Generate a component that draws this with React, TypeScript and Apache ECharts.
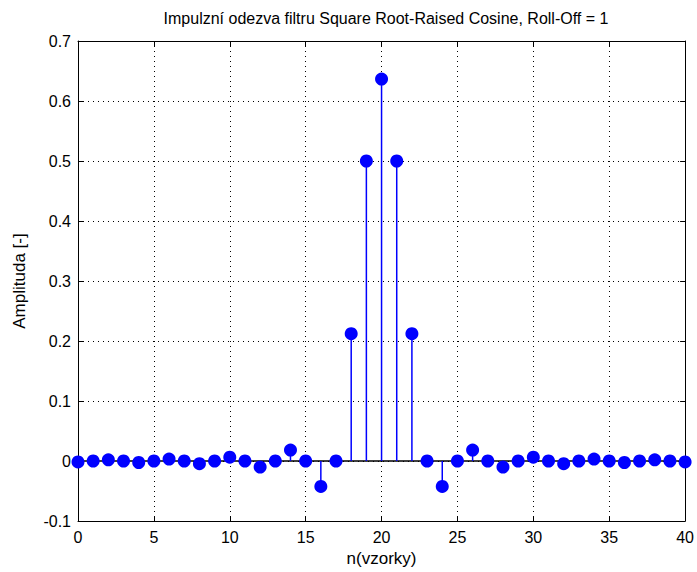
import React, { useEffect, useRef } from "react";
import * as echarts from "echarts";

const samples: number[] = [
  0, 1, 2, 3, 4, 5, 6, 7, 8, 9, 10, 11, 12, 13, 14, 15, 16, 17, 18, 19, 20,
  21, 22, 23, 24, 25, 26, 27, 28, 29, 30, 31, 32, 33, 34, 35, 36, 37, 38, 39, 40,
];
const amplitudes: number[] = [
  -0.0016, 0, 0.002, 0, -0.0025, 0, 0.0033, 0, -0.0045, 0, 0.0064, 0, -0.0101, 0,
  0.0182, 0, -0.0424, 0, 0.2122, 0.5, 0.6366, 0.5, 0.2122, 0, -0.0424, 0, 0.0182,
  0, -0.0101, 0, 0.0064, 0, -0.0045, 0, 0.0033, 0, -0.0025, 0, 0.002, 0, -0.0016,
];
const titleText = "Impulzní odezva filtru Square Root-Raised Cosine, Roll-Off = 1";
const xLabel = "n(vzorky)";
const yLabel = "Amplituda [-]";

const FONT = "'Liberation Sans Narrow', 'Liberation Sans', Arial, sans-serif";

export default function App() {
  const ref = useRef<HTMLDivElement>(null);
  useEffect(() => {
    if (!ref.current) return;
    const chart = echarts.init(ref.current, undefined, { renderer: "svg" });
    const pts = samples.map((n, i) => [n, amplitudes[i]]);
    const axisCommon = {
      type: "value" as const,
      axisLine: { show: true, onZero: false, lineStyle: { color: "#000", width: 1 } },
      axisTick: { show: true, inside: true, length: 5, lineStyle: { color: "#000" } },
    };
    chart.setOption({
      animation: false,
      backgroundColor: "#fff",
      graphic: [
        {
          type: "text",
          x: 386,
          y: 18,
          style: {
            text: titleText,
            fontFamily: FONT,
            fontSize: 16,
            fill: "#000",
            align: "center",
            verticalAlign: "middle",
          },
        },
      ],
      grid: { left: 78, right: 6, top: 41, bottom: 51 },
      xAxis: [
        {
          ...axisCommon,
          min: 0,
          max: 40,
          interval: 5,
          position: "bottom",
          name: xLabel,
          nameLocation: "middle",
          nameGap: 29,
          nameTextStyle: { fontFamily: FONT, fontSize: 17, color: "#000" },
          axisLabel: { fontFamily: FONT, fontSize: 16, color: "#000", margin: 8 },
          splitLine: { show: true, lineStyle: { color: "#000", type: [1, 4], width: 1 } },
        },
        {
          ...axisCommon,
          min: 0,
          max: 40,
          interval: 5,
          position: "top",
          axisLabel: { show: false },
          splitLine: { show: false },
        },
      ],
      yAxis: [
        {
          ...axisCommon,
          min: -0.1,
          max: 0.7,
          interval: 0.1,
          position: "left",
          name: yLabel,
          nameLocation: "middle",
          nameGap: 50,
          nameTextStyle: { fontFamily: FONT, fontSize: 17, color: "#000" },
          axisLabel: {
            fontFamily: FONT,
            fontSize: 16,
            color: "#000",
            margin: 7,
            formatter: (v: number) => {
              const r = Math.round(v * 10) / 10;
              return r === 0 ? "0" : String(r);
            },
          },
          splitLine: { show: true, lineStyle: { color: "#000", type: [1, 4], width: 1 } },
        },
        {
          ...axisCommon,
          min: -0.1,
          max: 0.7,
          interval: 0.1,
          position: "right",
          axisLabel: { show: false },
          splitLine: { show: false },
        },
      ],
      series: [
        {
          type: "line",
          data: [
            [0, 0],
            [40, 0],
          ],
          symbol: "none",
          lineStyle: { color: "#000", width: 1.5 },
          z: 2,
        },
        {
          type: "custom",
          data: pts,
          renderItem: (params: any, api: any) => {
            const x = api.value(0);
            const y = api.value(1);
            const p0 = api.coord([x, 0]);
            const p1 = api.coord([x, y]);
            return {
              type: "line",
              shape: { x1: p0[0], y1: p0[1], x2: p1[0], y2: p1[1] },
              style: { stroke: "#0000ff", lineWidth: 1.5 },
            };
          },
          z: 3,
        },
        {
          type: "scatter",
          data: pts,
          symbol: "circle",
          symbolSize: 13,
          itemStyle: { color: "#0000ff", opacity: 1 },
          z: 4,
        },
      ],
    });
    return () => chart.dispose();
  }, []);
  return (
    <div
      ref={ref}
      style={{ position: "absolute", left: 0, top: 0, width: 697, height: 572 }}
    />
  );
}
